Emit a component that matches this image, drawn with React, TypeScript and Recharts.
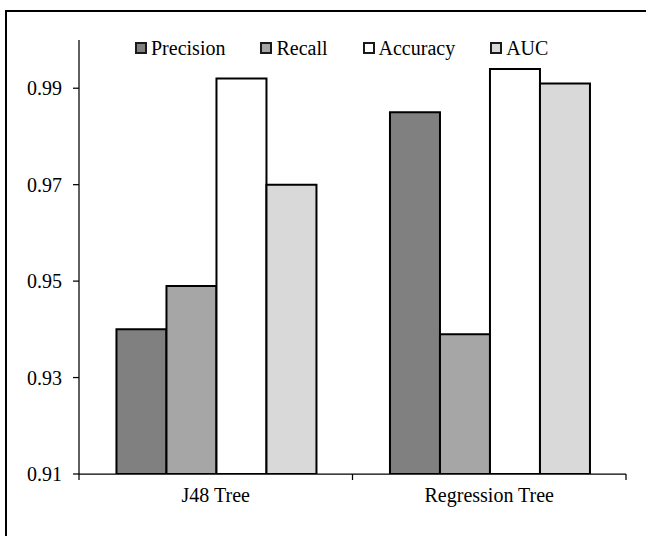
import { BarChart, Bar, XAxis, YAxis, Legend } from "recharts";

const categories = ["J48 Tree", "Regression Tree"];
const precision = [0.94, 0.985];
const recall = [0.949, 0.939];
const accuracy = [0.992, 0.994];
const auc = [0.97, 0.991];
const yTicks = [0.91, 0.93, 0.95, 0.97, 0.99];

const SERIES = [
  { key: "precision", name: "Precision", fill: "#808080" },
  { key: "recall", name: "Recall", fill: "#a6a6a6" },
  { key: "accuracy", name: "Accuracy", fill: "#ffffff" },
  { key: "auc", name: "AUC", fill: "#d9d9d9" },
];

const data = categories.map((name, i) => ({
  name,
  precision: precision[i],
  recall: recall[i],
  accuracy: accuracy[i],
  auc: auc[i],
}));

const FONT = "'Liberation Serif', 'Times New Roman', serif";
const TICK_SIZE = 6;
const TICK_MARGIN = 8;

// category label centred, tick marks on the category boundaries (Excel style)
function CategoryTick(props: any) {
  const { x, y, payload, index, visibleTicksCount } = props;
  const axisWidth = props.width ?? 547;
  const band = axisWidth / (visibleTicksCount || 1);
  const axisY = y - TICK_SIZE - TICK_MARGIN;
  return (
    <g>
      {index === 0 && (
        <line x1={x - band / 2} x2={x - band / 2} y1={axisY} y2={axisY + TICK_SIZE} stroke="#000" strokeWidth={1.25} />
      )}
      <line x1={x + band / 2} x2={x + band / 2} y1={axisY} y2={axisY + TICK_SIZE} stroke="#000" strokeWidth={1.25} />
      <text x={x} y={y} dy="0.71em" textAnchor="middle" fontSize={20} fontFamily={FONT} fill="#000">
        {payload.value}
      </text>
    </g>
  );
}

function LegendContent() {
  return (
    <div style={{ display: "flex", alignItems: "center", gap: 35, fontFamily: FONT, fontSize: 20, color: "#000", lineHeight: "22px" }}>
      {SERIES.map((s) => (
        <div key={s.key} style={{ display: "flex", alignItems: "center", gap: 4 }}>
          <span
            style={{
              display: "inline-block",
              width: 12,
              height: 12,
              boxSizing: "border-box",
              border: "2px solid #1a1a1a",
              background: s.fill,
            }}
          />
          <span>{s.name}</span>
        </div>
      ))}
    </div>
  );
}

export default function App() {
  return (
    <div style={{ position: "absolute", left: 0, top: 0, width: 646, height: 536, background: "#fff", overflow: "hidden" }}>
      <div
        style={{
          position: "absolute",
          left: 5,
          top: 10,
          width: 700,
          height: 600,
          borderLeft: "2px solid #000",
          borderTop: "2px solid #000",
        }}
      />
      <BarChart
        width={646}
        height={536}
        data={data}
        margin={{ top: 40, right: 20, left: 19, bottom: 32 }}
        barGap={0}
        barCategoryGap="13.7%"
        style={{ position: "absolute", left: 0, top: 0 }}
      >
        <XAxis
          dataKey="name"
          height={30}
          stroke="#000"
          strokeWidth={1.25}
          tickLine={false}
          tickSize={TICK_SIZE}
          tickMargin={TICK_MARGIN}
          tick={<CategoryTick />}
        />
        <YAxis
          width={60}
          domain={[0.91, 1.0]}
          ticks={yTicks}
          allowDataOverflow
          stroke="#000"
          strokeWidth={1.25}
          tickSize={6}
          tickMargin={11}
          tickFormatter={(v: number) => v.toFixed(2)}
          tick={{ fontSize: 20, fontFamily: FONT, fill: "#000" }}
        />
        <Legend
          verticalAlign="middle"
          align="center"
          layout="horizontal"
          content={<LegendContent />}
          wrapperStyle={{ top: 37, left: 135, width: "auto", height: "auto" }}
        />
        {SERIES.map((s) => (
          <Bar
            key={s.key}
            dataKey={s.key}
            name={s.name}
            fill={s.fill}
            stroke="#000"
            strokeWidth={2}
            isAnimationActive={false}
          />
        ))}
      </BarChart>
    </div>
  );
}
